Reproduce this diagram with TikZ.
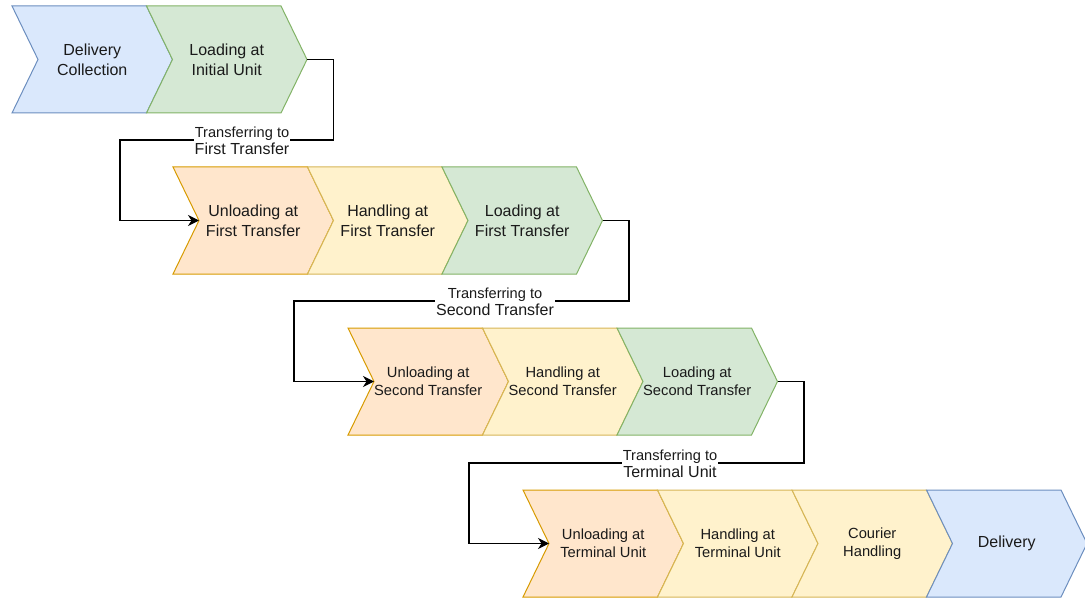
\documentclass[tikz,border=0pt]{standalone}
\usepackage{fontspec}
\setmainfont{Liberation Sans}
\usetikzlibrary{arrows.meta,calc}

\definecolor{blueFill}{HTML}{DAE8FC}\definecolor{blueLine}{HTML}{6C8EBF}
\definecolor{greenFill}{HTML}{D5E8D4}\definecolor{greenLine}{HTML}{82B366}
\definecolor{orangeFill}{HTML}{FFE6CC}\definecolor{orangeLine}{HTML}{D79B00}
\definecolor{yellowFill}{HTML}{FFF2CC}\definecolor{yellowLine}{HTML}{D6B656}
\definecolor{ink}{HTML}{1A1A1A}

\tikzset{
  bluestep/.style={fill=blueFill,draw=blueLine},
  greenstep/.style={fill=greenFill,draw=greenLine},
  orangestep/.style={fill=orangeFill,draw=orangeLine},
  yellowstep/.style={fill=yellowFill,draw=yellowLine},
  steptext/.style={align=center,text=ink,inner sep=0pt,font=\fontsize{16}{20}\selectfont},
  smalltext/.style={font=\fontsize{14.7}{18}\selectfont},
  conn/.style={draw=black,line width=1.3pt,-{Stealth[length=11pt,width=11pt,inset=3.5pt]}},
  translabel/.style={fill=white,text=ink,align=center,inner sep=1pt},
}

% chevron step: name, left x, top y, shape style, text style, text
\newcommand{\chevronstep}[6]{%
  \draw[#4,line width=1pt,line join=miter] (#2,#3) -- ++(134.5,0) -- ++(26,53.5)
      -- ++(-26,53.5) -- ++(-134.5,0) -- ++(26,-53.5) -- cycle;
  \coordinate (#1-tip) at ({#2+160.5},{#3+53.5});
  \coordinate (#1-notch) at ({#2+26},{#3+53.5});
  \node[steptext,#5] (#1) at ({#2+80.25},{#3+53.5}) {#6};
}

\newcommand{\twolines}[2]{{\fontsize{14.6}{17}\selectfont #1}\\[1.5pt]{\fontsize{16}{18}\selectfont #2}}

\begin{document}
\begin{tikzpicture}[x=1pt,y=-1pt]
\useasboundingbox (0,0) rectangle (1085,599);

% row 1
\chevronstep{r1a}{12}{6}{bluestep}{}{Delivery\\Collection}
\chevronstep{r1b}{146.5}{6}{greenstep}{}{Loading at\\Initial Unit}

% row 2
\chevronstep{r2a}{173}{167}{orangestep}{}{Unloading at\\First Transfer}
\chevronstep{r2b}{307.5}{167}{yellowstep}{}{Handling at\\First Transfer}
\chevronstep{r2c}{442}{167}{greenstep}{}{Loading at\\First Transfer}

% row 3
\chevronstep{r3a}{348}{328}{orangestep}{smalltext}{Unloading at\\Second Transfer}
\chevronstep{r3b}{482.5}{328}{yellowstep}{smalltext}{Handling at\\Second Transfer}
\chevronstep{r3c}{617}{328}{greenstep}{smalltext}{Loading at\\Second Transfer}

% row 4
\chevronstep{r4a}{523}{490}{orangestep}{smalltext}{Unloading at\\Terminal Unit}
\chevronstep{r4b}{657.5}{490}{yellowstep}{smalltext}{Handling at\\Terminal Unit}
\chevronstep{r4c}{792}{490}{yellowstep}{smalltext}{Courier\\Handling}
\chevronstep{r4d}{926.5}{490}{bluestep}{}{Delivery}

% transfers between rows
\draw[conn] (r1b-tip) -- ++(26.5,0) |- ($(r2a-notch)+(-79,-80.5)$) |- (r2a-notch);
\draw[conn] (r2c-tip) -- ++(26.5,0) |- ($(r3a-notch)+(-80,-80.5)$) |- (r3a-notch);
\draw[conn] (r3c-tip) -- ++(26.5,0) |- ($(r4a-notch)+(-80,-80.5)$) |- (r4a-notch);

\node[translabel] (t1) at (242,141) {\twolines{Transferring to}{First Transfer}};
\node[translabel] (t2) at (495,302) {\twolines{Transferring to}{Second Transfer}};
\node[translabel] (t3) at (670,464) {\twolines{Transferring to}{Terminal Unit}};
\end{tikzpicture}
\end{document}
